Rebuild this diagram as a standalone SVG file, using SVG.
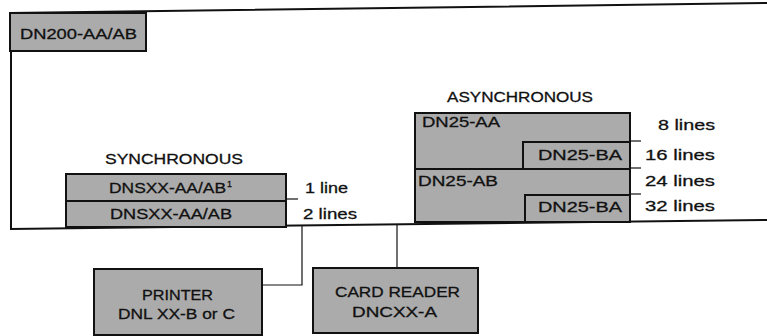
<svg xmlns="http://www.w3.org/2000/svg" width="767" height="336" viewBox="0 0 767 336">
<style>
.box{fill:#ababab;stroke:#111;stroke-width:2}
.frame{fill:none;stroke:#111;stroke-width:2}
.con{fill:none;stroke:#111;stroke-width:1.2}
text{font-family:"Liberation Sans",Arial,sans-serif;font-size:15px;fill:#111;stroke:#111;stroke-width:0.3}
</style>
<rect width="767" height="336" fill="#fff"/>
<g id="frame">
<polyline class="frame" points="767,3 11,13 11,229 767,220"/>
</g>
<g id="dn200">
<rect class="box" x="10" y="13" width="136" height="38"/>
<text x="20" y="39" textLength="117" lengthAdjust="spacingAndGlyphs">DN200-AA/AB</text>
</g>
<g id="synchronous">
<text x="105" y="164" textLength="138" lengthAdjust="spacingAndGlyphs">SYNCHRONOUS</text>
<rect class="box" x="66" y="174" width="220" height="53"/>
<line class="frame" x1="66" y1="201" x2="286" y2="201"/>
<text x="109" y="193" textLength="117" lengthAdjust="spacingAndGlyphs">DNSXX-AA/AB</text>
<text x="227" y="187" style="font-size:9px">1</text>
<text x="110" y="219" textLength="122" lengthAdjust="spacingAndGlyphs">DNSXX-AA/AB</text>
<line class="con" x1="286" y1="199" x2="298" y2="199"/>
<text x="305" y="193" textLength="43" lengthAdjust="spacingAndGlyphs">1 line</text>
<text x="303" y="219" textLength="54" lengthAdjust="spacingAndGlyphs">2 lines</text>
</g>
<g id="asynchronous">
<text x="447" y="102" textLength="146" lengthAdjust="spacingAndGlyphs">ASYNCHRONOUS</text>
<rect class="box" x="415" y="113" width="215" height="109"/>
<line class="frame" x1="415" y1="169" x2="630" y2="169"/>
<rect class="box" x="523" y="142" width="107" height="27"/>
<rect class="box" x="525" y="195" width="105" height="27"/>
<text x="422" y="127" textLength="78" lengthAdjust="spacingAndGlyphs">DN25-AA</text>
<text x="538" y="160" textLength="84" lengthAdjust="spacingAndGlyphs">DN25-BA</text>
<text x="418" y="186" textLength="80" lengthAdjust="spacingAndGlyphs">DN25-AB</text>
<text x="538" y="212" textLength="84" lengthAdjust="spacingAndGlyphs">DN25-BA</text>
<line class="con" x1="630" y1="141" x2="641" y2="141"/>
<line class="con" x1="630" y1="168" x2="641" y2="168"/>
<line class="con" x1="630" y1="194" x2="641" y2="194"/>
<text x="658" y="130" textLength="57" lengthAdjust="spacingAndGlyphs">8 lines</text>
<text x="645" y="160" textLength="70" lengthAdjust="spacingAndGlyphs">16 lines</text>
<text x="645" y="186" textLength="70" lengthAdjust="spacingAndGlyphs">24 lines</text>
<text x="645" y="211" textLength="70" lengthAdjust="spacingAndGlyphs">32 lines</text>
</g>
<g id="connectors">
<polyline class="con" points="262,285 302,285 302,226"/>
<line class="con" x1="397" y1="225" x2="397" y2="268"/>
</g>
<g id="printer">
<rect class="box" x="94" y="269" width="168" height="66"/>
<text x="142" y="300" textLength="71" lengthAdjust="spacingAndGlyphs">PRINTER</text>
<text x="118" y="319" textLength="117" lengthAdjust="spacingAndGlyphs">DNL XX-B or C</text>
</g>
<g id="card-reader">
<rect class="box" x="313" y="268" width="165" height="65"/>
<text x="335" y="297" textLength="125" lengthAdjust="spacingAndGlyphs">CARD READER</text>
<text x="352" y="317" textLength="85" lengthAdjust="spacingAndGlyphs">DNCXX-A</text>
</g>
</svg>
